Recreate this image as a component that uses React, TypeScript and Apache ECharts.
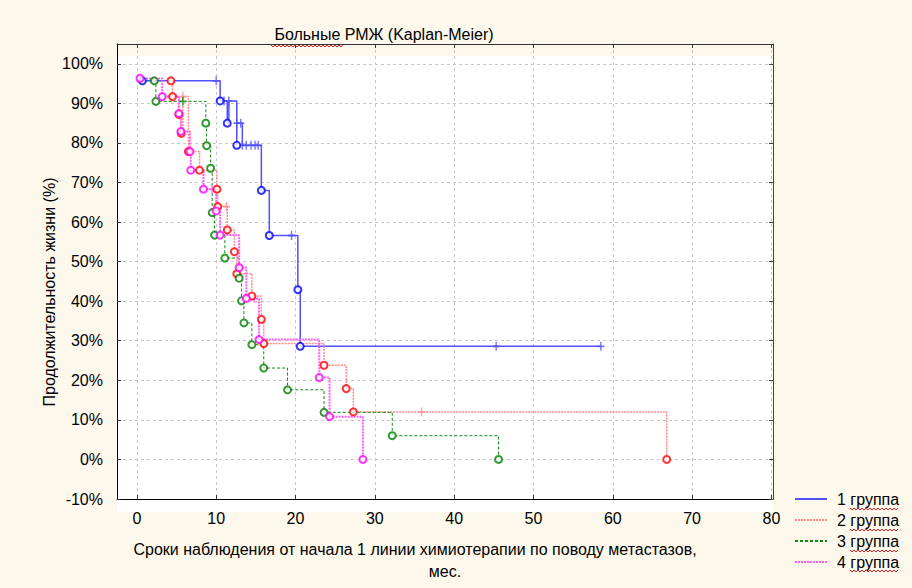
import React, { useEffect, useRef } from 'react';
import * as echarts from 'echarts';

// ---- axis ticks ----
const xTickValues = [0, 10, 20, 30, 40, 50, 60, 70, 80];
const yTickValues = [-10, 0, 10, 20, 30, 40, 50, 60, 70, 80, 90, 100];

// ---- group names ----
const groupNames = ['1 группа', '2 группа', '3 группа', '4 группа'];

// ---- events (complete observations): [month, survival %] ----
const g1Events = [
  [0.7, 95.7], [10.5, 90.6], [11.4, 85.0], [12.6, 79.4], [15.7, 68.0],
  [16.7, 56.6], [20.3, 42.9], [20.6, 28.6],
];
const g2Events = [
  [4.3, 95.7], [4.5, 91.7], [5.3, 87.2], [5.6, 82.4], [6.5, 77.8], [7.9, 73.1],
  [10.1, 68.3], [10.2, 63.9], [11.4, 58.0], [12.3, 52.5], [12.6, 46.9],
  [14.5, 41.3], [15.7, 35.4], [16.0, 29.3], [23.6, 23.8], [26.4, 17.9],
  [27.3, 12.0], [66.8, 0],
];
const g3Events = [
  [2.2, 95.7], [2.4, 90.5], [8.7, 85.0], [8.8, 79.3], [9.3, 73.6], [9.5, 62.4],
  [9.8, 56.7], [11.1, 50.9], [12.9, 45.8], [13.2, 40.1], [13.5, 34.5],
  [14.5, 29.0], [16.0, 23.1], [19.0, 17.6], [23.6, 11.9], [32.2, 6.0], [45.6, 0],
];
const g4Events = [
  [0.4, 96.3], [3.2, 91.7], [5.3, 87.4], [5.55, 82.9], [6.7, 77.8], [6.8, 73.1],
  [8.4, 68.3], [10.0, 62.8], [10.5, 56.7], [12.9, 48.5], [13.8, 40.7],
  [15.4, 30.3], [23.0, 20.7], [24.3, 10.8], [28.5, 0],
];

// ---- censored observations: [month, survival %] ----
const g1Censored = [
  [10.0, 95.7], [11.0, 90.6], [11.6, 90.6], [12.6, 85.0], [13.1, 85.0],
  [13.3, 79.4], [13.8, 79.4], [14.4, 79.4], [14.9, 79.4], [15.3, 79.4],
  [19.5, 56.6], [45.3, 28.6], [58.5, 28.6],
];
const g2Censored = [[5.8, 91.7], [11.3, 63.9], [35.9, 12.0]];
const g3Censored = [[5.8, 90.5]];
const g4Censored = [[9.5, 68.3], [14.8, 40.7]];

const allEvents = [g1Events, g2Events, g3Events, g4Events];
const allCensored = [g1Censored, g2Censored, g3Censored, g4Censored];

// ---- styles ----
const markerColors = ['#0000ff', '#ff0000', '#008000', '#ff00ff'];
const lineColors = ['#5050ff', '#ff8a8a', '#108a10', '#ff5cff'];
const lineTypes: any[] = ['solid', [2, 1], [3, 2], [2, 1]];
const lineWidths = [1.5, 1.5, 1, 2];

const FONT = '"Liberation Sans", Arial, sans-serif';

function wavy(x0: number, x1: number, y: number) {
  const pts: number[][] = [];
  let k = 0;
  for (let x = x0; x <= x1; x += 2) {
    pts.push([x, k % 2 === 0 ? y - 1 : y + 1]);
    k++;
  }
  return pts;
}

export default function App() {
  const ref = useRef<HTMLDivElement>(null);

  useEffect(() => {
    if (!ref.current) return;
    const chart = echarts.init(ref.current, undefined, { renderer: 'svg' });

    const series: any[] = [];
    for (let i = 0; i < 4; i++) {
      const lineData = [...allEvents[i], ...allCensored[i]].sort((a, b) => a[0] - b[0]);
      series.push({
        name: groupNames[i],
        type: 'line',
        step: 'end',
        data: lineData,
        symbol: 'none',
        showSymbol: false,
        lineStyle: { color: lineColors[i], width: lineWidths[i], type: lineTypes[i] },
        itemStyle: { color: lineColors[i] },
        z: 2 + i,
        silent: true,
      });
    }
    for (let i = 0; i < 4; i++) {
      series.push({
        name: 'censored' + i,
        type: 'scatter',
        data: allCensored[i],
        symbol: 'path://M4,0h2v10h-2z M0,4h10v2h-10z',
        symbolSize: [7, 9],
        itemStyle: { color: lineColors[i] },
        z: 6 + i,
        silent: true,
      });
      series.push({
        name: 'events' + i,
        type: 'scatter',
        data: allEvents[i],
        symbol: 'circle',
        symbolSize: 7,
        itemStyle: { color: '#ffffff', borderColor: markerColors[i], borderWidth: 2 },
        z: 10 + i,
        silent: true,
      });
    }

    const graphics: any[] = [
      {
        type: 'rect',
        shape: { x: 117, y: 56, width: 656, height: 456 },
        style: { fill: '#ffffff' },
        z: -100,
        silent: true,
      },
      {
        type: 'text',
        x: 384,
        y: 34,
        style: {
          text: 'Больные РМЖ (Kaplan-Meier)',
          font: '16px ' + FONT,
          fill: '#000',
          textAlign: 'center',
          textVerticalAlign: 'middle',
        },
      },
      {
        type: 'polyline',
        shape: { points: wavy(271, 343, 46) },
        style: { stroke: '#e02020', lineWidth: 1, fill: 'none' },
        z: 50,
      },
      {
        type: 'text',
        x: 49,
        y: 292,
        rotation: Math.PI / 2,
        style: {
          text: 'Продолжительность жизни (%)',
          font: '16px ' + FONT,
          fill: '#000',
          textAlign: 'center',
          textVerticalAlign: 'middle',
        },
      },
      {
        type: 'text',
        x: 415,
        y: 549,
        style: {
          text: 'Сроки наблюдения от начала 1 линии химиотерапии по поводу метастазов,',
          font: '16px ' + FONT,
          fill: '#000',
          textAlign: 'center',
          textVerticalAlign: 'middle',
        },
      },
      {
        type: 'text',
        x: 445,
        y: 571,
        style: {
          text: 'мес.',
          font: '16px ' + FONT,
          fill: '#000',
          textAlign: 'center',
          textVerticalAlign: 'middle',
        },
      },
    ];
    const legendRows = [499, 520, 541, 561];
    legendRows.forEach((y) => {
      graphics.push({
        type: 'polyline',
        shape: { points: wavy(850, 898, y + 10) },
        style: { stroke: '#e02020', lineWidth: 1, fill: 'none' },
        z: 50,
      });
    });

    const option: any = {
      animation: false,
      backgroundColor: '#fdf8ec',
      textStyle: { fontFamily: FONT },
      grid: { left: 117, top: 44, width: 656, height: 455, containLabel: false },
      legend: {
        data: groupNames,
        orient: 'vertical',
        left: 794,
        top: 491,
        padding: 0,
        itemWidth: 32,
        itemHeight: 14,
        itemGap: 5,
        selectedMode: false,
        itemStyle: { opacity: 0, color: 'transparent', borderColor: 'transparent', borderWidth: 0 },
        textStyle: { fontSize: 16, color: '#000', fontFamily: FONT, padding: [0, 0, 0, 5] },
      },
      xAxis: [
        {
          type: 'value',
          min: -2.5,
          max: 80.2,
          position: 'bottom',
          axisLine: { show: true, onZero: false, lineStyle: { color: '#000', width: 1 } },
          axisTick: { show: true, inside: true, length: 4, customValues: xTickValues, lineStyle: { color: '#333' } },
          axisLabel: { customValues: xTickValues, fontSize: 16, color: '#000', margin: 11, fontFamily: FONT },
          splitLine: { show: true, lineStyle: { color: '#c8c8c8', type: [3, 3], width: 1 } },
        },
        {
          type: 'value',
          min: -2.5,
          max: 80.2,
          position: 'top',
          axisLine: { show: true, onZero: false, lineStyle: { color: '#333', width: 1 } },
          axisTick: { show: true, inside: true, length: 4, customValues: xTickValues, lineStyle: { color: '#333' } },
          axisLabel: { show: false },
          splitLine: { show: false },
        },
      ],
      yAxis: [
        {
          type: 'value',
          min: -10,
          max: 105,
          position: 'left',
          axisLine: { show: true, onZero: false, lineStyle: { color: '#000', width: 1 } },
          axisTick: { show: true, inside: true, length: 4, customValues: yTickValues, lineStyle: { color: '#333' } },
          axisLabel: {
            customValues: yTickValues,
            fontSize: 16,
            color: '#000',
            margin: 14,
            fontFamily: FONT,
            formatter: (v: number) => v + '%',
          },
          splitLine: { show: true, lineStyle: { color: '#c8c8c8', type: [3, 3], width: 1 } },
        },
        {
          type: 'value',
          min: -10,
          max: 105,
          position: 'right',
          axisLine: { show: true, onZero: false, lineStyle: { color: '#444', width: 1 } },
          axisTick: { show: true, inside: true, length: 4, customValues: yTickValues, lineStyle: { color: '#444' } },
          axisLabel: { show: false },
          splitLine: { show: false },
        },
      ],
      graphic: graphics,
      series,
    };

    chart.setOption(option);
    return () => {
      chart.dispose();
    };
  }, []);

  return (
    <div
      ref={ref}
      style={{ position: 'fixed', left: 0, top: 0, width: 912, height: 588 }}
    />
  );
}
